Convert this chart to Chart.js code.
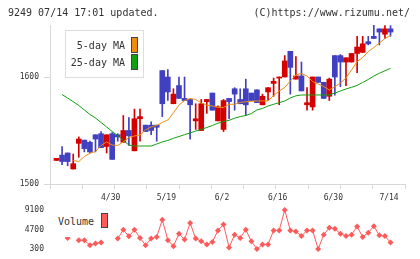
<!DOCTYPE html>
<html lang="ja">
<head>
  <meta charset="UTF-8">
  <title>9249 chart</title>
  <script src="https://cdn.jsdelivr.net/npm/chart.js"></script>
  <style>
    * { margin: 0; padding: 0; box-sizing: border-box; }
    body {
      width: 420px; height: 259px; position: relative; overflow: hidden;
      background: #fff; color: #333;
      font-family: 'DejaVu Sans Mono', monospace;
    }
    canvas { position: absolute; left: 0; }
    #main { top: 0; }
    #vol { top: 200px; }
    .abs { position: absolute; white-space: nowrap; font-size: 10px; line-height: 12px; }
    .sw { position: absolute; width: 7px; border: 1px solid #444; }
  </style>
</head>
<body>
  <canvas id="main" width="420" height="210"></canvas>
  <canvas id="vol" width="420" height="59"></canvas>

  <div class="abs" style="left:8px;top:7px">9249 07/14 17:01 updated.</div>
  <div class="abs" style="right:10px;top:7px">(C)https://www.rizumu.net/</div>

  <!-- price legend -->
  <div style="position:absolute;left:65px;top:30px;width:79px;height:48px;border:1px solid #ddd;background:#fff"></div>
  <div class="abs" style="left:60px;width:65px;top:40px;text-align:right">5-day MA</div>
  <div class="abs" style="left:60px;width:65px;top:57px;text-align:right">25-day MA</div>
  <div class="sw" style="left:131px;top:37px;height:16px;background:#f08c10"></div>
  <div class="sw" style="left:131px;top:54px;height:16px;background:#10a010"></div>

  <!-- volume legend -->
  <div style="position:absolute;left:53px;top:204px;width:60px;height:33px;background:#fff"></div>
  <div class="abs" style="left:58px;top:216px">Volume</div>
  <div class="sw" style="left:101px;top:213px;height:15px;background:#ff5a5a"></div>

  <script>
    // daily candles, oldest first (last = 7/14)
    const opens  = [1522,1527,1529,1514,1538,1541,1539,1546,1547,1535,1547,1546,1539,1550,1531,1561,1555,1555,1555,1606,
                    1600,1575,1592,1580,1579,1559,1550,1577,1585,1559,1551,1580,1589,1579,1589,1585,1588,1574,1586,1594,
                    1599,1600,1624,1598,1601,1574,1572,1600,1595,1582,1620,1620,1614,1614,1622,1623,1633,1638,1645,1640,1645];
    const highs  = [1524,1535,1529,1528,1544,1541,1540,1546,1549,1546,1548,1547,1564,1562,1570,1570,1555,1558,1555,1606,
                    1607,1589,1600,1600,1579,1575,1579,1579,1585,1573,1579,1580,1590,1589,1598,1585,1588,1584,1590,1599,
                    1600,1620,1624,1619,1614,1590,1600,1600,1595,1599,1620,1621,1618,1622,1638,1638,1638,1649,1645,1648,1648];
    const lows   = [1522,1518,1517,1514,1525,1530,1529,1530,1534,1529,1523,1540,1539,1536,1531,1540,1549,1546,1540,1563,
                    1578,1575,1580,1578,1542,1551,1550,1566,1569,1559,1549,1561,1569,1575,1564,1578,1576,1574,1578,1582,
                    1574,1600,1584,1598,1587,1569,1569,1595,1580,1578,1583,1591,1592,1614,1604,1623,1630,1636,1630,1636,1638];
    const closes = [1524,1521,1521,1519,1542,1533,1530,1542,1534,1546,1523,1544,1550,1545,1561,1563,1549,1550,1553,1575,
                    1586,1584,1580,1578,1574,1561,1575,1579,1569,1572,1578,1577,1584,1575,1574,1578,1576,1582,1590,1596,
                    1600,1615,1609,1601,1587,1576,1600,1595,1580,1598,1600,1614,1618,1622,1628,1631,1631,1636,1642,1645,1642];

    const ma5 = [null,null,null,1522,1521,1525.7,1528.7,1530.4,1536,1539.3,1536.4,1536,1539.3,1543.5,1544.9,1545.8,1550.5,1553.3,1554.7,1557.5,
                 1559.8,1566.4,1573.8,1578,1579.9,1579,1575.7,1573.8,1572.9,1571.7,1571.5,1574.5,1574.5,1576.2,1576.9,1577.3,1577.6,1577.6,1577.6,1582.7,
                 1586.9,1590.2,1596.3,1601.9,1603.3,1600.9,1595.8,1593.5,1591.1,1587.9,1590.9,1594.4,1599.1,1606.5,1614.5,1618.2,1623.8,1627.6,1631.8,1636,1638.8];
    const ma25 = [null,1583.6,1580.4,1576.9,1573.4,1569.2,1565,1561.7,1557.5,1553.3,1549.1,1545.3,1540.7,1536.4,1535.5,1535.5,1535.5,1535.5,1537.4,1539.3,
                  1540.7,1542.7,1544.4,1546.1,1547.7,1549.5,1551.1,1552.8,1554.7,1556.8,1558.3,1559.5,1561.5,1563,1564,1565.9,1569.2,1570.6,1572.9,1574.5,
                  1576,1577.6,1580.4,1582.4,1583.2,1583.2,1583.2,1583.2,1583.2,1583.2,1585,1586.9,1588.8,1590.4,1592.1,1594.9,1597.7,1600.9,1603.5,1605.8,1608.1];
    const volumes = [null,null,2800,null,2280,2280,1180,1550,1770,null,null,2650,4630,3160,4630,2790,1180,2650,3010,6900,
                     2280,960,3750,2430,6170,2650,2060,1330,1910,4480,5800,670,3530,2790,4630,2060,300,1330,1330,4480,
                     4480,9100,4480,4260,3230,4480,4480,300,3530,5070,4850,3750,3230,3530,5360,3010,3970,5430,3380,3230,1770];

    const dateTicks  = [10, 20, 30, 40, 50, 60];
    const dateLabels = ['4/30', '5/19', '6/2', '6/16', '6/30', '7/14'];
    const priceTicks = [1500, 1600];
    const volTicks   = [300, 4700, 9100];

    const RED = '#d40000', BLUE = '#4040c0';
    const ORANGE = '#f08c10', GREEN = '#10a010', VOLC = '#ff5a5a';
    const AXIS = '#d8d8d8';
    const X_MIN = -1.17, X_MAX = 62.6;
    // evenly spaced tick marks under the x axis (12 of them, edge to edge)
    const markTicks = Array.from({length: 12}, (_, k) => X_MIN + k * (X_MAX - X_MIN) / 11);

    Chart.defaults.font.family = "'DejaVu Sans Mono', monospace";
    Chart.defaults.font.size = 8;
    Chart.defaults.color = '#333';

    // keep the plot box where it is: no extra room for edge labels
    function noPad(s) {
      s.paddingTop = 0; s.paddingBottom = 0; s.paddingLeft = 0; s.paddingRight = 0;
    }

    const idx = closes.map((_, i) => i);
    const candleColors = idx.map(i => closes[i] >= opens[i] ? RED : BLUE);

    new Chart(document.getElementById('main'), {
      type: 'bar',
      data: {
        datasets: [
          {
            type: 'line', data: idx.map(i => ({x: i, y: ma5[i]})),
            borderColor: ORANGE, borderWidth: 1, pointRadius: 0, order: 0
          },
          {
            type: 'line', data: idx.map(i => ({x: i, y: ma25[i]})),
            borderColor: GREEN, borderWidth: 1, pointRadius: 0, order: 1
          },
          {
            data: idx.map(i => ({x: i, y: [opens[i], closes[i]]})),
            backgroundColor: candleColors, barThickness: 5, grouped: false, order: 2
          },
          {
            data: idx.map(i => ({x: i, y: [lows[i], highs[i]]})),
            backgroundColor: candleColors, barThickness: 1, grouped: false, order: 3
          }
        ]
      },
      options: {
        responsive: false,
        animation: false,
        devicePixelRatio: 1,
        layout: { padding: { left: 0, right: 15, top: 25, bottom: 0 } },
        plugins: { legend: { display: false }, tooltip: { enabled: false } },
        scales: {
          x: {
            type: 'linear', min: X_MIN, max: X_MAX, offset: false,
            afterBuildTicks: s => {
              s.ticks = markTicks.concat(dateTicks).sort((a, b) => a - b).map(v => ({value: v}));
            },
            afterFit: s => { s.height = 26; noPad(s); },
            grid: {
              offset: false, drawOnChartArea: false, tickLength: 5,
              color: AXIS,
              tickColor: ctx => dateTicks.includes(ctx.tick && ctx.tick.value) ? 'rgba(0,0,0,0)' : AXIS
            },
            border: { color: AXIS },
            ticks: {
              autoSkip: false, maxRotation: 0, padding: 4, labelOffset: -1.5,
              callback: v => {
                const k = dateTicks.indexOf(v);
                return k >= 0 ? dateLabels[k] : '';
              }
            }
          },
          y: {
            min: 1500, max: 1648.6,
            afterBuildTicks: s => { s.ticks = priceTicks.map(v => ({value: v})); },
            afterFit: s => { s.width = 50; noPad(s); },
            grid: { drawOnChartArea: false, tickLength: 6, color: AXIS },
            border: { color: AXIS },
            ticks: { padding: 5, callback: v => String(v) }
          }
        }
      }
    });

    new Chart(document.getElementById('vol'), {
      type: 'line',
      data: {
        datasets: [{
          data: idx.map(i => ({x: i, y: volumes[i]})),
          borderColor: VOLC, backgroundColor: VOLC, borderWidth: 1,
          pointStyle: 'rectRot', pointRadius: 3, pointBorderWidth: 0,
          spanGaps: false
        }]
      },
      options: {
        responsive: false,
        animation: false,
        devicePixelRatio: 1,
        layout: { padding: { left: 0, right: 15, top: 3, bottom: 6 } },
        plugins: { legend: { display: false }, tooltip: { enabled: false } },
        scales: {
          x: { type: 'linear', min: X_MIN, max: X_MAX, display: false },
          y: {
            min: -580, max: 10420,
            afterBuildTicks: s => { s.ticks = volTicks.map(v => ({value: v})); },
            afterFit: s => { s.width = 50; noPad(s); },
            grid: { display: false, drawTicks: false },
            border: { display: false },
            ticks: { padding: 6, callback: v => String(v) }
          }
        }
      }
    });
  </script>
</body>
</html>
